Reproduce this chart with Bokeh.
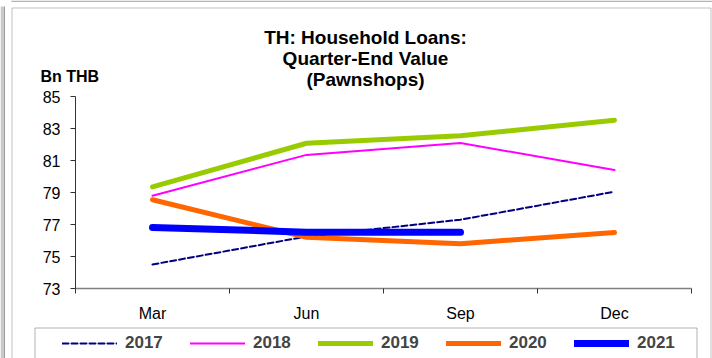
from bokeh.plotting import figure
from bokeh.models import (Range1d, LinearAxis, FixedTicker, Legend, LegendItem,
                          Label, BoxAnnotation)
from bokeh.embed import file_html
from bokeh.resources import INLINE

quarters = ["Mar", "Jun", "Sep", "Dec"]
years = ["2017", "2018", "2019", "2020", "2021"]
y2017 = [74.5, 76.25, 77.3, 79.05]
y2018 = [78.8, 81.35, 82.1, 80.4]
y2019 = [79.35, 82.08, 82.55, 83.52]
y2020 = [78.55, 76.2, 75.8, 76.5]
y2021 = [76.82, 76.52, 76.52]
y_ticks = [73, 75, 77, 79, 81, 83, 85]
title_lines = ["TH: Household Loans:", "Quarter-End Value", "(Pawnshops)"]
unit_label = "Bn THB"

FONT = "Liberation Sans"
W, H = 712, 358
# plot area inside the canvas (pixels): category band 154 px, 16 px per unit
PX_LEFT, BAND = 75, 154
PX_TOP, PX_BOTTOM = 96, 288
y_lo, y_hi = y_ticks[0], y_ticks[-1]
upp = (y_hi - y_lo) / (PX_BOTTOM - PX_TOP)

n = len(quarters)
xpos = [i + 0.5 for i in range(n)]

p = figure(width=W, height=H,
           x_range=Range1d(-PX_LEFT / BAND, (W - PX_LEFT) / BAND),
           y_range=Range1d(y_lo - (H - PX_BOTTOM) * upp, y_hi + PX_TOP * upp),
           x_axis_type=None, y_axis_type=None,
           output_backend="svg", toolbar_location=None, title=None,
           min_border=0)
p.outline_line_color = None
p.background_fill_color = "white"
p.border_fill_color = "white"

yaxis = LinearAxis(ticker=FixedTicker(ticks=y_ticks), fixed_location=0,
                   bounds=(y_lo, y_hi))
yaxis.axis_line_color = "#333333"
yaxis.major_tick_line_color = "#333333"
yaxis.major_tick_out = 5
yaxis.major_tick_in = 0
yaxis.minor_tick_line_color = None
yaxis.major_label_text_font = FONT
yaxis.major_label_text_font_size = "16px"
yaxis.major_label_text_color = "black"
yaxis.major_label_standoff = 10
p.add_layout(yaxis, "left")

xaxis = LinearAxis(ticker=FixedTicker(ticks=xpos, minor_ticks=list(range(n + 1))),
                   major_label_overrides={x: q for x, q in zip(xpos, quarters)},
                   fixed_location=y_lo, bounds=(0, n))
xaxis.axis_line_color = "#808080"
xaxis.axis_line_width = 1.5
xaxis.major_tick_line_color = None
xaxis.major_tick_out = 0
xaxis.major_tick_in = 0
xaxis.minor_tick_line_color = "#333333"
xaxis.minor_tick_out = 5
xaxis.minor_tick_in = 0
xaxis.major_label_text_font = FONT
xaxis.major_label_text_font_size = "16px"
xaxis.major_label_text_color = "black"
xaxis.major_label_standoff = 11
p.add_layout(xaxis, "below")

styles = [
    dict(color="#000080", width=2, dash="6 3"),
    dict(color="#FF00FF", width=2, dash="solid"),
    dict(color="#99CC00", width=5, dash="solid"),
    dict(color="#FF6600", width=5, dash="solid"),
    dict(color="#0000FF", width=7, dash="solid"),
]
series = [y2017, y2018, y2019, y2020, y2021]
items = []
for yr, vals, st in zip(years, series, styles):
    r = p.line(x=xpos[:len(vals)], y=vals, line_color=st["color"],
               line_width=st["width"], line_dash=st["dash"], line_cap="round",
               line_join="round")
    items.append(LegendItem(label=yr, renderers=[r]))

legend = Legend(items=items, orientation="horizontal", location=(62, 5),
                padding=0, margin=0, spacing=25, glyph_width=55, glyph_height=20,
                label_height=20, label_width=40, label_standoff=8,
                label_text_font=FONT, label_text_font_style="bold",
                label_text_font_size="17px", border_line_alpha=0,
                background_fill_alpha=0)
p.add_layout(legend, "center")

box_units = dict(left_units="canvas", right_units="canvas",
                 top_units="canvas", bottom_units="canvas")
# page edge lines, outer chart border and legend box
p.add_layout(BoxAnnotation(left=0, right=2.5, top=6, bottom=H + 20,
                           fill_color="#c8c8c8", fill_alpha=1, line_alpha=0,
                           **box_units))
p.add_layout(BoxAnnotation(left=3, right=4.5, top=6, bottom=H + 20,
                           fill_color="#9a9a9a", fill_alpha=1, line_alpha=0,
                           **box_units))
p.add_layout(BoxAnnotation(left=11, right=W, top=0, bottom=1.5,
                           fill_color="#b4b4b4", fill_alpha=1, line_alpha=0,
                           **box_units))
p.add_layout(BoxAnnotation(left=11.5, right=710.5, top=7.5, bottom=H + 20,
                           fill_alpha=0, line_color="#333333", line_width=1,
                           **box_units))
p.add_layout(BoxAnnotation(left=34.5, right=696.5, top=327.5, bottom=H + 20,
                           fill_alpha=0, line_color="black", line_width=1,
                           **box_units))

for i, t in enumerate(title_lines):
    p.add_layout(Label(x=365, y=37 + 21 * i, x_units="canvas", y_units="canvas",
                       text=t, text_align="center", text_baseline="alphabetic",
                       text_font=FONT, text_font_style="bold", text_font_size="19px",
                       text_color="black"))
p.add_layout(Label(x=40, y=76, x_units="canvas", y_units="canvas",
                   text=unit_label, text_align="left", text_baseline="alphabetic",
                   text_font=FONT, text_font_style="bold", text_font_size="16px",
                   text_color="black"))

open("out.html", "w").write(file_html(p, INLINE))
